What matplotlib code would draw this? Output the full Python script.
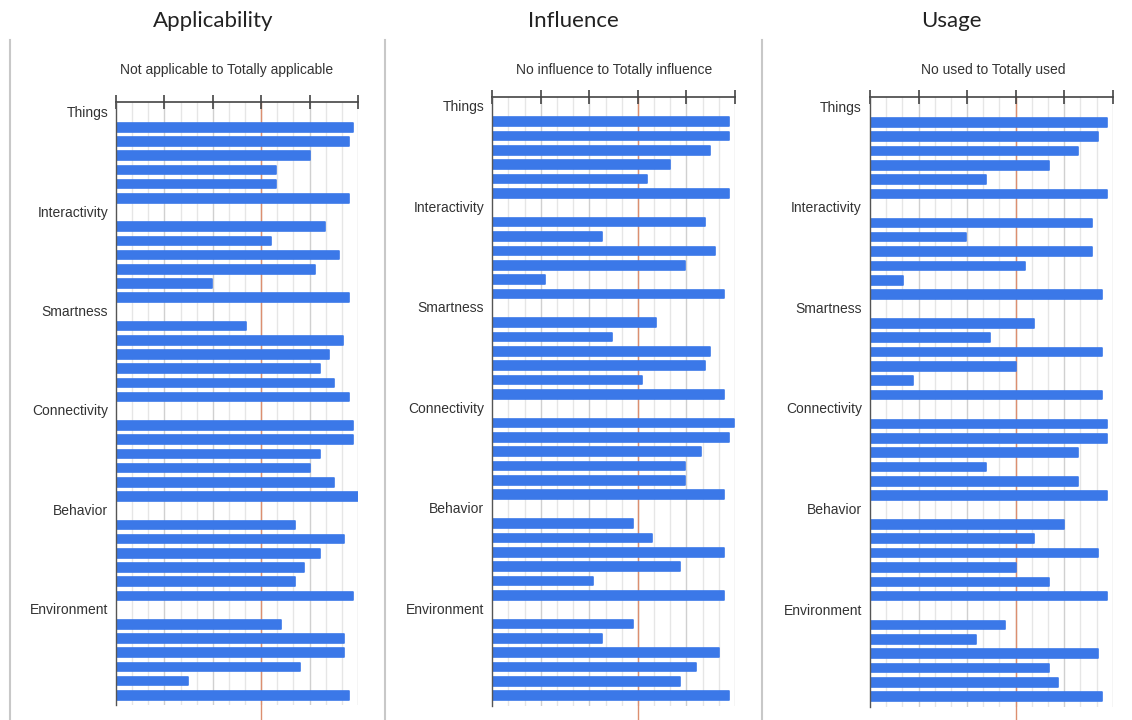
import matplotlib
matplotlib.use("Agg")
import matplotlib.pyplot as plt
import matplotlib.transforms as mtransforms
from matplotlib.lines import Line2D
import numpy as np

groups = ["Things", "Interactivity", "Smartness", "Connectivity", "Behavior", "Environment"]

titles = ["Applicability", "Influence", "Usage"]
subtitles = ["Not applicable to Totally applicable",
             "No influence to Totally influence",
             "No used to Totally used"]

applicability = [
    [4.90, 4.82, 4.00, 3.31, 3.31, 4.82],
    [4.31, 3.20, 4.60, 4.11, 1.98, 4.82],
    [2.69, 4.70, 4.41, 4.21, 4.50, 4.82],
    [4.90, 4.90, 4.21, 4.00, 4.50, 5.00],
    [3.69, 4.71, 4.21, 3.89, 3.69, 4.90],
    [3.40, 4.71, 4.71, 3.80, 1.48, 4.82],
]
influence = [
    [4.88, 4.88, 4.48, 3.67, 3.18, 4.88],
    [4.38, 2.27, 4.59, 3.97, 1.08, 4.78],
    [3.37, 2.47, 4.48, 4.38, 3.08, 4.78],
    [4.98, 4.88, 4.29, 3.97, 3.97, 4.78],
    [2.89, 3.28, 4.78, 3.87, 2.08, 4.78],
    [2.89, 2.27, 4.67, 4.19, 3.87, 4.88],
]
usage = [
    [4.88, 4.69, 4.29, 3.68, 2.38, 4.88],
    [4.58, 1.98, 4.58, 3.20, 0.69, 4.78],
    [3.38, 2.47, 4.78, 3.00, 0.88, 4.78],
    [4.89, 4.89, 4.29, 2.38, 4.29, 4.89],
    [3.99, 3.38, 4.69, 3.00, 3.68, 4.89],
    [2.78, 2.18, 4.69, 3.68, 3.88, 4.78],
]
datasets = [applicability, influence, usage]

x_max = 5
midpoint = 3

W, H = 1132, 720
fig = plt.figure(figsize=(W / 100, H / 100), dpi=100)
fig.patch.set_facecolor("white")

# panel geometry in pixels: (left, right, row1_y, spacing)
panels = [(116, 358, 127.3, 14.2), (492.3, 735, 121.7, 14.35), (870, 1112.7, 122.3, 14.36)]
title_x = [213, 573, 951]
sub_x = [227, 614, 993]
sep_x = [10, 385, 762]

ytop, ybot = -0.75, 41.7
bar_color = "#3b78e8"
text_color = "#333333"

for sx in sep_x:
    fig.add_artist(Line2D([sx / W, sx / W], [0, 1 - 40 / H], color="#c8c8c8", lw=1.5,
                          transform=fig.transFigure))

for i, (data, t, st) in enumerate(zip(datasets, titles, subtitles)):
    left, right, r1, sp = panels[i]
    top_px = r1 - (1 - ytop) * sp
    height_px = (ybot - ytop) * sp
    ax = fig.add_axes([left / W, 1 - (top_px + height_px) / H, (right - left) / W, height_px / H])

    ypos = []
    vals = []
    labels_pos = []
    row = 0
    for g, gv in zip(groups, data):
        labels_pos.append(row)
        row += 1
        for v in gv:
            ypos.append(row)
            vals.append(v)
            row += 1

    ax.set_xlim(0, x_max)
    ax.set_ylim(ybot, ytop)

    # grid
    for k in range(1, 16):
        xv = k / 3
        major = (k % 3 == 0)
        ax.axvline(xv, color="#d0d0d0" if major else "#e6e6e6", lw=1.0, zorder=0)
    ax.axvline(midpoint, ymin=-0.03, ymax=1, color="#dc8f70", lw=1.0, zorder=1, clip_on=False)

    ax.barh(ypos, vals, height=0.6, color=bar_color, edgecolor=bar_color,
            linewidth=1.2, joinstyle="round", zorder=3)

    trans = mtransforms.blended_transform_factory(ax.transAxes, ax.transData)
    for g, yp in zip(groups, labels_pos):
        ax.text(-0.033, yp, g, transform=trans, ha="right", va="center",
                fontsize=10, color=text_color, family="Liberation Sans")

    for s in ["right", "bottom"]:
        ax.spines[s].set_visible(False)
    ax.spines["top"].set_color("#444444")
    ax.spines["top"].set_linewidth(1.2)
    ax.spines["left"].set_color("#555555")
    ax.spines["left"].set_linewidth(1.0)
    ax.spines["left"].set_zorder(4)
    ax.xaxis.tick_top()
    ax.set_xticks(np.arange(0, x_max + 1, 1))
    ax.set_xticklabels([])
    ax.tick_params(axis="x", direction="inout", length=10, width=1.2, color="#444444")
    ax.set_yticks([])
    ax.set_facecolor("none")

    fig.text(title_x[i] / W, 1 - 21 / H, t, ha="center", va="center", fontsize=16,
             family="Lato", color="#222222")
    fig.text(sub_x[i] / W, 1 - 70 / H, st, ha="center", va="center", fontsize=10,
             family="Liberation Sans", color=text_color)

fig.savefig("out.png", dpi=100, facecolor="white")
